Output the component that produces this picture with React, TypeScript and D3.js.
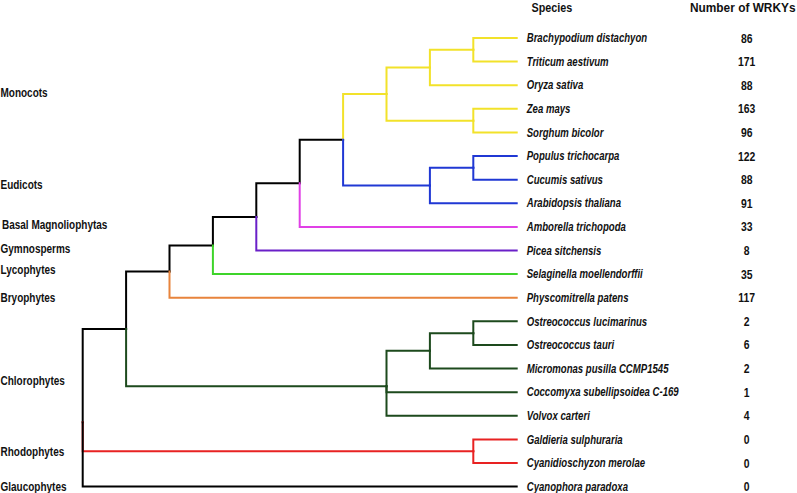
import React from "react";
import * as d3 from "d3";

const species = [
  "Brachypodium distachyon",
  "Triticum aestivum",
  "Oryza sativa",
  "Zea mays",
  "Sorghum bicolor",
  "Populus trichocarpa",
  "Cucumis sativus",
  "Arabidopsis thaliana",
  "Amborella trichopoda",
  "Picea sitchensis",
  "Selaginella moellendorffii",
  "Physcomitrella patens",
  "Ostreococcus lucimarinus",
  "Ostreococcus tauri",
  "Micromonas pusilla CCMP1545",
  "Coccomyxa subellipsoidea C-169",
  "Volvox carteri",
  "Galdieria sulphuraria",
  "Cyanidioschyzon merolae",
  "Cyanophora paradoxa",
];
const wrkyCounts = [86, 171, 88, 163, 96, 122, 88, 91, 33, 8, 35, 117, 2, 6, 2, 1, 4, 0, 0, 0];

const groupLabels = [
  "Monocots",
  "Eudicots",
  "Basal Magnoliophytas",
  "Gymnosperms",
  "Lycophytes",
  "Bryophytes",
  "Chlorophytes",
  "Rhodophytes",
  "Glaucophytes",
];
// position of each group label in leaf-index units
const groupLabelPos = [2.3, 6.2, 7.9, 8.9, 9.8, 11.0, 14.5, 17.5, 19.0];

const cladeColors: Record<string, string> = {
  black: "#000000",
  monocot: "#f2e22a",
  eudicot: "#2038d4",
  basal: "#e040e6",
  gymno: "#6a20c8",
  lyco: "#3ed42a",
  bryo: "#e8843c",
  chloro: "#1d4a1d",
  rhodo: "#e82222",
};

type N = { name?: string; leaf?: number; color: string; children?: N[] };
const L = (i: number, color: string): N => ({ leaf: i, color, name: species[i] });

const tree: N = {
  color: "black",
  children: [
    {
      color: "black",
      children: [
        {
          color: "black",
          children: [
            {
              color: "black",
              children: [
                {
                  color: "black",
                  children: [
                    {
                      color: "black",
                      children: [
                        {
                          color: "black",
                          children: [
                            {
                              color: "monocot",
                              children: [
                                {
                                  color: "monocot",
                                  children: [
                                    { color: "monocot", children: [L(0, "monocot"), L(1, "monocot")] },
                                    L(2, "monocot"),
                                  ],
                                },
                                { color: "monocot", children: [L(3, "monocot"), L(4, "monocot")] },
                              ],
                            },
                            {
                              color: "eudicot",
                              children: [
                                { color: "eudicot", children: [L(5, "eudicot"), L(6, "eudicot")] },
                                L(7, "eudicot"),
                              ],
                            },
                          ],
                        },
                        L(8, "basal"),
                      ],
                    },
                    L(9, "gymno"),
                  ],
                },
                L(10, "lyco"),
              ],
            },
            L(11, "bryo"),
          ],
        },
        {
          color: "chloro",
          children: [
            {
              color: "chloro",
              children: [
                { color: "chloro", children: [L(12, "chloro"), L(13, "chloro")] },
                L(14, "chloro"),
              ],
            },
            L(15, "chloro"),
            L(16, "chloro"),
          ],
        },
      ],
    },
    { color: "rhodo", children: [L(17, "rhodo"), L(18, "rhodo")] },
    L(19, "black"),
  ],
};

const SX = 0.8; // horizontal condensing to mimic a narrow font

export default function App() {
  const W = 797;
  const H = 493;
  const root = d3.hierarchy<N>(tree);
  const maxH = root.height;
  const x = d3.scaleLinear().domain([0, maxH]).range([82.7, 516.7]);
  const y = d3.scaleLinear().domain([0, species.length - 1]).range([38, 486.6]);

  const pos = new Map<any, { x: number; y: number }>();
  root.eachAfter((n: any) => {
    const px = x(maxH - n.height);
    let py: number;
    if (!n.children) py = y(n.data.leaf);
    else py = d3.mean(n.children.map((c: any) => pos.get(c)!.y)) as number;
    pos.set(n, { x: px, y: py });
  });

  const links = root.links().map((l: any, i: number) => {
    const s = pos.get(l.source)!;
    const t = pos.get(l.target)!;
    return {
      key: i,
      d: `M${s.x},${s.y}V${t.y}H${t.x}`,
      color: cladeColors[l.target.data.color],
    };
  });

  const font = "'Liberation Sans', Arial, sans-serif";
  const tr = (tx: number, ty: number, sx = SX) => `translate(${tx},${ty}) scale(${sx},1)`;

  return (
    <svg
      width={W}
      height={H}
      style={{ position: "absolute", left: 0, top: 0, background: "#fff" }}
      fontFamily={font}
    >
      <rect width={W} height={H} fill="#fff" />
      <g fill="none" strokeWidth={2} strokeLinecap="square">
        {links.map((l) => (
          <path key={l.key} d={l.d} stroke={l.color} />
        ))}
      </g>
      <g fontSize={12.5} fontWeight="bold" fill="#111">
        {groupLabels.map((g, i) => (
          <text
            key={g}
            transform={tr(g === "Basal Magnoliophytas" ? 2 : 0.5, y(groupLabelPos[i]))}
            dy="0.35em"
          >
            {g}
          </text>
        ))}
      </g>
      <g fontSize={12} fontStyle="italic" fontWeight="bold" fill="#111">
        {species.map((s, i) => (
          <text key={s} transform={tr(526.7, y(i))} dy="0.35em">
            {s}
          </text>
        ))}
      </g>
      <g fontSize={13} fontWeight="bold" fill="#111" textAnchor="middle">
        {wrkyCounts.map((c, i) => (
          <text key={i} transform={tr(746.7, y(i))} dy="0.35em">
            {c}
          </text>
        ))}
      </g>
      <g fontSize={13.5} fontWeight="bold" fill="#111">
        <text transform={tr(531.5, 11.5)}>Species</text>
        <text transform={tr(690, 11.5, 0.88)}>Number of WRKYs</text>
      </g>
    </svg>
  );
}
